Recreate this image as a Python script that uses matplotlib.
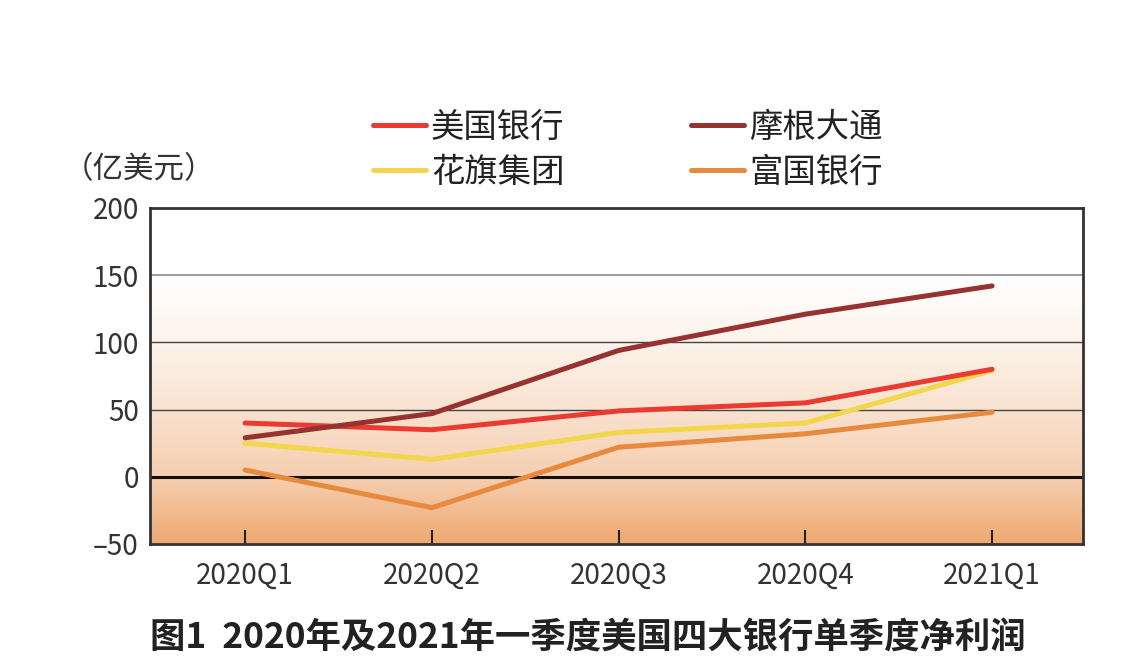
import numpy as np
import matplotlib
matplotlib.use("Agg")
import matplotlib.pyplot as plt
from matplotlib.colors import LinearSegmentedColormap

plt.rcParams['font.family'] = ['Noto Sans CJK SC', 'DejaVu Sans']

quarters = ['2020Q1', '2020Q2', '2020Q3', '2020Q4', '2021Q1']
bofa = [40, 35, 49, 55, 80]
jpm = [29, 47, 94, 121, 142]
citi = [25, 13, 33, 40, 79]
wells = [5, -23, 22, 32, 48]

y_ticks = [-50, 0, 50, 100, 150, 200]
y_tick_labels = ['\u201350', '0', '50', '100', '150', '200']

fig = plt.figure(figsize=(11.29, 6.72), dpi=100)
ax = fig.add_axes([0.1329, 0.1905, 0.8264, 0.5000])

x = np.arange(len(quarters))
ax.set_xlim(-0.509, 4.487)
ax.set_ylim(-50, 200)

# background gradient: white at top, orange at bottom
stops = [(0.0, '#eea972'), (0.2, '#f6cfb0'), (0.4, '#f9e2d0'),
         (0.6, '#fdf3ea'), (0.8, '#ffffff'), (1.0, '#ffffff')]
cmap = LinearSegmentedColormap.from_list('bg', stops)
grad = np.linspace(0, 1, 256).reshape(-1, 1)
ax.imshow(grad, cmap=cmap, aspect='auto', origin='lower',
          extent=[-0.509, 4.487, -50, 200], zorder=0)

# grid lines
ax.axhline(150, color='#8c8c8c', lw=1.2, zorder=1)
ax.axhline(100, color='#444444', lw=1.0, zorder=1)
ax.axhline(50, color='#444444', lw=1.0, zorder=1)
ax.axhline(0, color='#111111', lw=2.2, zorder=1)

lw = 3.6
l1, = ax.plot(x, bofa, color='#ea3a31', lw=lw, solid_capstyle='round', zorder=3, label='美国银行')
l2, = ax.plot(x, jpm, color='#963331', lw=lw, solid_capstyle='round', zorder=3, label='摩根大通')
l3, = ax.plot(x, citi, color='#f2d64c', lw=lw, solid_capstyle='round', zorder=2, label='花旗集团')
l4, = ax.plot(x, wells, color='#e78a3d', lw=lw, solid_capstyle='round', zorder=2, label='富国银行')

ax.set_xticks(x)
ax.set_xticklabels(quarters)
ax.set_yticks(y_ticks)
ax.set_yticklabels(y_tick_labels)
ax.tick_params(axis='x', direction='in', length=10, width=1.5, color='#222222',
               labelsize=20, labelcolor='#333333', pad=12)
ax.tick_params(axis='y', length=0, labelsize=20, labelcolor='#333333', pad=8)

for s in ax.spines.values():
    s.set_color('#333333')
    s.set_linewidth(2)

leg = fig.legend(handles=[l1, l3, l2, l4], ncol=2, loc='center',
                 bbox_to_anchor=(0.556, 0.777), frameon=False,
                 fontsize=24, handlelength=1.6, handletextpad=0.15,
                 columnspacing=3.8, labelspacing=0.3)
for t in leg.get_texts():
    t.set_color('#222222')

fig.text(0.056, 0.748, '（亿美元）', fontsize=22, color='#333333', va='center')

fig.text(0.521, 0.05, '图1  2020年及2021年一季度美国四大银行单季度净利润',
         fontsize=25.5, fontweight='bold', color='#222222', ha='center', va='center')

fig.savefig('out.png', dpi=100)
